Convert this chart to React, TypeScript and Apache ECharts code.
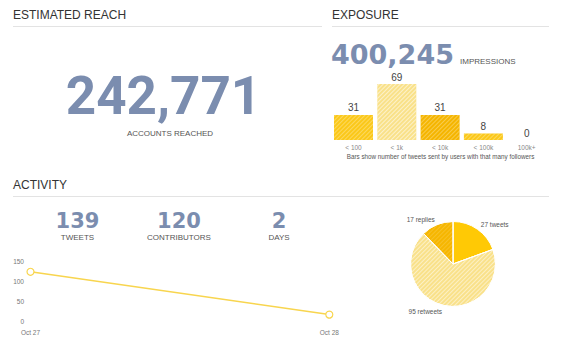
import React, { useEffect, useRef } from 'react';
import * as echarts from 'echarts';

// ---- data ----
const followerBuckets = ['< 100', '< 1k', '< 10k', '< 100k', '100k+'];
const tweetsByBucket = [31, 69, 31, 8, 0];
const activityDays = ['Oct 27', 'Oct 28'];
const tweetsPerDay = [123, 16];
const activityTickStep = 50;
const activityMax = 150;
const tweetTypes = ['tweets', 'retweets', 'replies'];
const tweetTypeCounts = [27, 95, 17];
const reachValue = '242,771';
const reachLabel = 'ACCOUNTS REACHED';
const impressionsValue = '400,245';
const impressionsLabel = 'IMPRESSIONS';
const statValues = ['139', '120', '2'];
const statLabels = ['TWEETS', 'CONTRIBUTORS', 'DAYS'];
const sectionTitles = ['ESTIMATED REACH', 'EXPOSURE', 'ACTIVITY'];
const barCaption = 'Bars show number of tweets sent by users with that many followers';

const NUM = '#7b8daf';
const TITLE = '#333333';
const SMALL = '#555555';
const RULE = '#e3e3e3';
const SANS = '"Liberation Sans", Arial, sans-serif';

const barColors = ['#fbc819', '#f9e189', '#f5b500', '#fbc819', '#fbc819'];
const pieColors = ['#ffc905', '#f9e18a', '#f6b600'];

const stripe = (alpha: number) => ({
  symbol: 'rect',
  symbolSize: 1,
  color: `rgba(255,255,255,${alpha})`,
  dashArrayX: [1, 0],
  dashArrayY: [1, 2],
  rotation: -Math.PI / 4,
});

const txt = (x: number, y: number, text: string, font: string, fill: string, align = 'left') => ({
  type: 'text',
  x,
  y,
  silent: true,
  style: { text, font, fill, align, verticalAlign: 'middle', textAlign: align, textVerticalAlign: 'middle' },
});

const rule = (x1: number, x2: number, y: number) => ({
  type: 'line',
  silent: true,
  shape: { x1, y1: y, x2, y2: y },
  style: { stroke: RULE, lineWidth: 1 },
});

export default function App() {
  const ref = useRef<HTMLDivElement>(null);

  useEffect(() => {
    if (!ref.current) return;
    const chart = echarts.init(ref.current, undefined, { renderer: 'svg' });

    const statX = [77.5, 179, 279];
    const graphics: any[] = [
      txt(13, 15, sectionTitles[0], `12px ${SANS}`, TITLE),
      txt(332, 15, sectionTitles[1], `12px ${SANS}`, TITLE),
      txt(13, 185, sectionTitles[2], `12px ${SANS}`, TITLE),
      rule(13, 322, 26.5),
      rule(332, 549, 26.5),
      rule(13, 549, 196.5),
      txt(163.5, 96, reachValue, `bold 53px Roboto, sans-serif`, NUM, 'center'),
      txt(170, 133, reachLabel, `8px ${SANS}`, SMALL, 'center'),
      txt(331, 54, impressionsValue, `bold 27px "DejaVu Sans", sans-serif`, NUM),
      txt(460, 61, impressionsLabel, `8px ${SANS}`, SMALL),
      txt(440.5, 156, barCaption, `6.3px ${SANS}`, SMALL, 'center'),
    ];
    statValues.forEach((v, i) => {
      graphics.push(txt(statX[i], 221, v, `bold 21px "DejaVu Sans", sans-serif`, NUM, 'center'));
      graphics.push(txt(statX[i], 237, statLabels[i], `8px ${SANS}`, SMALL, 'center'));
    });

    chart.setOption({
      animation: false,
      backgroundColor: '#ffffff',
      textStyle: { fontFamily: SANS },
      grid: [
        { left: 331.85, right: 18.65, top: 75.2, bottom: 219, containLabel: false },
        { left: 30.5, right: 237.7, top: 261, bottom: 38, containLabel: false },
      ],
      xAxis: [
        {
          gridIndex: 0,
          type: 'category',
          data: followerBuckets,
          axisLine: { show: false },
          axisTick: { show: false },
          axisLabel: { fontSize: 6.5, color: '#888', margin: 4 },
        },
        {
          gridIndex: 1,
          type: 'category',
          data: activityDays,
          boundaryGap: false,
          axisLine: { show: false },
          axisTick: { show: false },
          axisLabel: { fontSize: 6.5, color: '#777', margin: 7.5 },
        },
      ],
      yAxis: [
        { gridIndex: 0, type: 'value', min: 0, max: 80, show: false },
        {
          gridIndex: 1,
          type: 'value',
          min: 0,
          max: activityMax,
          interval: activityTickStep,
          axisLine: { show: false },
          axisTick: { show: false },
          splitLine: { show: false },
          axisLabel: { fontSize: 6.5, color: '#777', margin: 6.5 },
        },
      ],
      series: [
        {
          type: 'bar',
          xAxisIndex: 0,
          yAxisIndex: 0,
          barWidth: 39,
          data: tweetsByBucket.map((v, i) => ({
            value: v,
            itemStyle: { color: barColors[i], decal: stripe(i === 1 ? 0.55 : 0.3) },
          })),
          label: {
            show: true,
            position: 'top',
            distance: 2,
            fontSize: 10,
            color: '#444',
            fontFamily: SANS,
          },
        },
        {
          type: 'line',
          xAxisIndex: 1,
          yAxisIndex: 1,
          data: tweetsPerDay,
          symbol: 'circle',
          symbolSize: 7,
          lineStyle: { color: '#f8d54e', width: 1.5 },
          itemStyle: { color: '#ffffff', borderColor: '#f8d54e', borderWidth: 1.2 },
        },
        {
          type: 'pie',
          center: [453, 264],
          radius: 42.5,
          startAngle: 90,
          clockwise: true,
          data: tweetTypes.map((n, i) => ({
            name: n,
            value: tweetTypeCounts[i],
            itemStyle: {
              color: pieColors[i],
              decal: i === 0 ? undefined : stripe(i === 1 ? 0.5 : 0.15),
            },
          })),
          itemStyle: { borderColor: '#ffffff', borderWidth: 1 },
          label: {
            show: true,
            position: 'outside',
            formatter: '{c} {b}',
            fontSize: 6.5,
            color: '#555',
            fontFamily: SANS,
            distanceToLabelLine: 0,
          },
          labelLine: { show: false, length: 6, length2: 0 },
        },
      ],
      graphic: graphics,
    });

    return () => chart.dispose();
  }, []);

  return (
    <div
      ref={ref}
      style={{ position: 'fixed', left: 0, top: 0, width: 567, height: 359, background: '#fff' }}
    />
  );
}
